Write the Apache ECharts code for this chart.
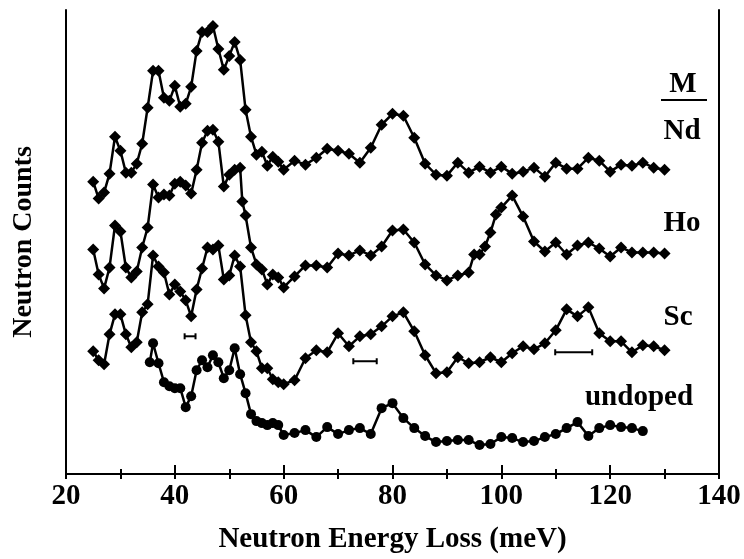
<!DOCTYPE html>
<html>
<head>
<meta charset="utf-8">
<script src="https://cdn.jsdelivr.net/npm/echarts@6/dist/echarts.min.js"></script>
<style>html,body{margin:0;padding:0;background:#fff}#c{width:744px;height:559px}</style>
</head>
<body>
<div id="c"></div>
<script>
// Energy (meV), counts (arbitrary units, offset per curve)
const ndData = [[25,293],[26,276],[27,282],[28,301],[29,338],[30,324],[31,302],[32,302],[33,311],[34,331],[35,367],[36,404],[37,404],[38,377],[39,374],[40,389],[41,368],[42,371],[43,388],[44,424],[45,443],[46,443],[47,449],[48,426],[49,405],[50,419],[51,433],[52,415],[53,365],[54,338],[55,320],[56,323],[57,309],[58,318],[59,313],[60,305],[62,314],[64,310],[66,317],[68,326],[70,324],[72,321],[74,312],[76,327],[78,350],[80,361],[82,359],[84,337],[86,311],[88,300],[90,299],[92,312],[94,302],[96,308],[98,302],[100,308],[102,301],[104,303],[106,307],[108,298],[110,312],[112,306],[114,306],[116,317],[118,314],[120,303],[122,310],[124,309],[126,312],[128,307],[130,305]];
const hoData = [[25,225],[26,200],[27,186],[28,207],[29,249],[30,243],[31,207],[32,197],[33,203],[34,227],[35,247],[36,290],[37,277],[38,280],[39,279],[40,291],[41,293],[42,289],[43,281],[44,305],[45,332],[46,344],[47,345],[48,333],[49,288],[50,300],[51,305],[52,307],[52.4,273],[53,259],[54,227],[55,210],[56,205],[57,190],[58,200],[59,197],[60,187],[62,198],[64,209],[66,209],[68,207],[70,221],[72,219],[74,224],[76,219],[78,228],[80,244],[82,245],[84,232],[86,210],[88,199],[90,194],[92,199],[94,202],[95,220],[96,220],[97,228],[98,242],[99,260],[100,267],[102,279],[104,258],[106,233],[108,223],[110,232],[112,220],[114,229],[116,232],[118,226],[120,218],[122,227],[124,222],[126,222],[128,222],[130,221]];
const scData = [[25,123],[26,114],[27,110],[28,140],[29,160],[30,160],[31,140],[32,127],[33,132],[34,162],[35,170],[36,219],[37,208],[38,202],[39,180],[40,190],[41,183],[42,174],[43,158],[44,185],[45,206],[46,227],[47,225],[48,229],[49,195],[50,199],[51,219],[52,208],[53,159],[54,132],[55,123],[56,106],[57,106],[58,95],[59,92],[60,90],[62,94],[64,116],[66,124],[68,122],[70,141],[72,128],[74,138],[76,140],[78,148],[80,158],[82,162],[84,143],[86,119],[88,101],[90,102],[92,117],[94,111],[96,112],[98,117],[100,112],[102,121],[104,128],[106,125],[108,131],[110,144],[112,165],[114,158],[116,167],[118,141],[120,133],[122,133],[124,122],[126,129],[128,128],[130,124]];
const undopedData = [[35.4,112],[36,131],[37,111],[38,92],[39,88],[40,86],[41,86],[42,67],[43,78],[44,104],[45,114],[46,107],[47,119],[48,112],[49,96],[50,104],[51,126],[52,100],[53,81],[54,60],[55,53],[56,51],[57,49],[58,51],[59,49],[60,39],[62,41],[64,44],[66,37],[68,47],[70,40],[72,44],[74,46],[76,40],[78,66],[80,71],[82,56],[84,46],[86,38],[88,32],[90,33],[92,34],[94,34],[96,29],[98,30],[100,37],[102,36],[104,32],[106,33],[108,37],[110,40],[112,46],[114,52],[116,38],[118,46],[120,49],[122,47],[124,46],[126,43]];
// instrumental resolution bars: [from, to, level]
const resolutionBars = [[41.8,43.8,138],[72.8,77.1,113],[109.9,116.7,122]];
const curveLabels = ['Nd','Ho','Sc','undoped'];
const xTitle = 'Neutron Energy Loss (meV)';
const yTitle = 'Neutron Counts';

const FONT = '"Liberation Serif","Times New Roman",serif';
const chart = echarts.init(document.getElementById('c'), null, {renderer:'canvas'});

function lineSeries(name, data, symbol, size){
  return {name, type:'line', data, symbol, symbolSize:size, showAllSymbol:true,
    lineStyle:{color:'#000', width:2.5}, itemStyle:{color:'#000'}, z:3, animation:false};
}

chart.setOption({
  animation:false,
  grid:{left:66, right:25, top:10, bottom:84},
  xAxis:[{
    type:'value', min:20, max:140, interval:20, position:'bottom',
    name:xTitle, nameLocation:'middle', nameGap:51,
    nameTextStyle:{fontFamily:FONT, fontWeight:'bold', fontSize:29, color:'#000'},
    axisLine:{lineStyle:{color:'#000', width:2}},
    axisTick:{inside:true, length:9, lineStyle:{color:'#000', width:2}},
    minorTick:{show:true, splitNumber:2, length:5, lineStyle:{color:'#000', width:2}},
    axisLabel:{fontFamily:FONT, fontWeight:'bold', fontSize:29, color:'#000', margin:8},
    splitLine:{show:false}
  },{
    type:'value', min:20, max:140, interval:10, position:'top',
    axisLine:{lineStyle:{color:'#000', width:2}},
    axisTick:{inside:true, length:5, lineStyle:{color:'#000', width:2}},
    axisLabel:{show:false}, splitLine:{show:false}
  }],
  yAxis:[{
    type:'value', min:0, max:465, position:'left',
    name:yTitle, nameLocation:'middle', nameGap:28, nameRotate:90,
    nameTextStyle:{fontFamily:FONT, fontWeight:'bold', fontSize:28, color:'#000'},
    axisLine:{show:true, lineStyle:{color:'#000', width:2}},
    axisTick:{show:false}, axisLabel:{show:false}, splitLine:{show:false}
  },{
    type:'value', min:0, max:465, position:'right',
    axisLine:{show:true, lineStyle:{color:'#000', width:2}},
    axisTick:{show:false}, axisLabel:{show:false}, splitLine:{show:false}
  }],
  series:[
    lineSeries(curveLabels[0], ndData, 'diamond', 12),
    lineSeries(curveLabels[1], hoData, 'diamond', 12),
    lineSeries(curveLabels[2], scData, 'diamond', 12),
    lineSeries(curveLabels[3], undopedData, 'circle', 10),
    {
      type:'custom', data:resolutionBars, animation:false, z:4,
      renderItem:function(params, api){
        const a = api.coord([api.value(0), api.value(2)]);
        const b = api.coord([api.value(1), api.value(2)]);
        const st = {stroke:'#000', lineWidth:2};
        return {type:'group', children:[
          {type:'line', shape:{x1:a[0], y1:a[1], x2:b[0], y2:b[1]}, style:st},
          {type:'line', shape:{x1:a[0], y1:a[1]-3, x2:a[0], y2:a[1]+3}, style:st},
          {type:'line', shape:{x1:b[0], y1:b[1]-3, x2:b[0], y2:b[1]+3}, style:st}
        ]};
      }
    }
  ],
  graphic:[
    {type:'text', x:683, y:85, style:{text:'M', font:'bold 29px '+FONT, fill:'#000', align:'center', verticalAlign:'middle'}},
    {type:'line', shape:{x1:661, y1:100, x2:707, y2:100}, style:{stroke:'#000', lineWidth:2}},
    {type:'text', x:682, y:132, style:{text:curveLabels[0], font:'bold 29px '+FONT, fill:'#000', align:'center', verticalAlign:'middle'}},
    {type:'text', x:682, y:224, style:{text:curveLabels[1], font:'bold 29px '+FONT, fill:'#000', align:'center', verticalAlign:'middle'}},
    {type:'text', x:678, y:318, style:{text:curveLabels[2], font:'bold 29px '+FONT, fill:'#000', align:'center', verticalAlign:'middle'}},
    {type:'text', x:639, y:398, style:{text:curveLabels[3], font:'bold 29px '+FONT, fill:'#000', align:'center', verticalAlign:'middle'}}
  ]
});
</script>
</body>
</html>
